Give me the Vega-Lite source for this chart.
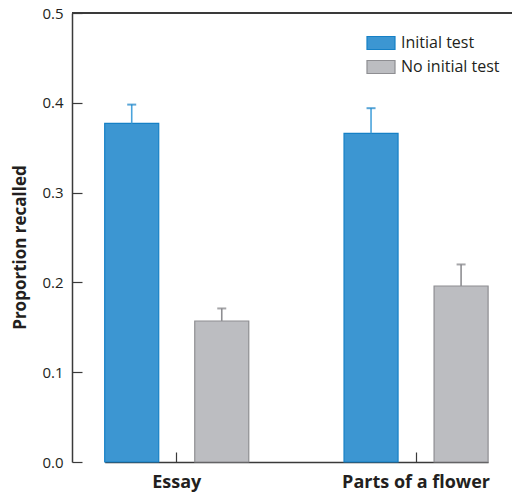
{
  "$schema": "https://vega.github.io/schema/vega-lite/v6.json",
  "width": 440,
  "height": 449,
  "autosize": {"type": "none"},
  "padding": {"left": 72, "top": 13, "right": 0, "bottom": 31},
  "background": "white",
  "config": {
    "view": {"stroke": null},
    "font": "Open Sans",
    "axis": {"domainColor": "#3a3a3a", "domainWidth": 1.5, "tickColor": "#3a3a3a", "tickWidth": 1.2, "grid": false, "labelColor": "#231f20", "titleColor": "#231f20"}
  },
  "data": {
    "values": [
      {"category": "Essay", "group": "Initial test", "value": 0.377, "upper": 0.398},
      {"category": "Essay", "group": "No initial test", "value": 0.157, "upper": 0.171},
      {"category": "Parts of a flower", "group": "Initial test", "value": 0.366, "upper": 0.394},
      {"category": "Parts of a flower", "group": "No initial test", "value": 0.196, "upper": 0.220}
    ]
  },
  "encoding": {
    "x": {
      "field": "category", "type": "nominal", "sort": null,
      "scale": {"paddingInner": 0.398, "paddingOuter": 0, "range": [32.7, 416.1]},
      "axis": {"title": null, "labelAngle": 0, "labelFont": "Open Sans", "labelFontWeight": "bold", "labelFontSize": 18, "tickSize": -10, "labelPadding": 21, "domainWidth": 1.5}
    },
    "xOffset": {"field": "group", "type": "nominal", "scale": {"paddingInner": 0.4, "paddingOuter": 0}}
  },
  "layer": [
    {
      "mark": {"type": "rule", "color": "#3a3a3a", "strokeWidth": 1.5},
      "encoding": {"x": null, "xOffset": null, "y": {"datum": 0.5, "type": "quantitative"}}
    },
    {
      "mark": {"type": "bar", "strokeWidth": 1.2},
      "encoding": {
        "y": {
          "field": "value", "type": "quantitative",
          "scale": {"domain": [0, 0.5], "nice": false},
          "axis": {"title": "Proportion recalled", "values": [0, 0.1, 0.2, 0.3, 0.4, 0.5], "format": ".1f", "labelFontSize": 15, "tickSize": -10, "labelPadding": 19, "titleFontSize": 17, "titleFontWeight": "bold", "titleX": -52, "titleY": 234, "titleAlign": "center", "titleBaseline": "middle", "domainWidth": 1.5}
        },
        "fill": {
          "field": "group", "type": "nominal",
          "scale": {"domain": ["Initial test", "No initial test"], "range": ["#3c96d2", "#bcbdc1"]},
          "legend": {
            "title": null, "orient": "none", "legendX": 294, "legendY": 15,
            "symbolType": "M-1,-0.464H1V0.464H-1Z", "symbolSize": 784,
            "symbolStrokeWidth": 1.2, "labelFontSize": 16, "labelColor": "#231f20",
            "rowPadding": -7, "labelOffset": 5
          }
        },
        "stroke": {
          "field": "group", "type": "nominal",
          "scale": {"domain": ["Initial test", "No initial test"], "range": ["#1580c6", "#8e8e92"]},
          "legend": null
        }
      }
    },
    {
      "mark": {"type": "rule", "strokeWidth": 1.6},
      "encoding": {
        "y": {"field": "value", "type": "quantitative"},
        "y2": {"field": "upper"},
        "color": {
          "field": "group", "type": "nominal",
          "scale": {"domain": ["Initial test", "No initial test"], "range": ["#4aa3dc", "#8e8e92"]},
          "legend": null
        }
      }
    },
    {
      "mark": {"type": "tick", "size": 9, "thickness": 2},
      "encoding": {
        "y": {"field": "upper", "type": "quantitative"},
        "color": {
          "field": "group", "type": "nominal",
          "scale": {"domain": ["Initial test", "No initial test"], "range": ["#1580c6", "#808084"]},
          "legend": null
        }
      }
    }
  ],
  "resolve": {"scale": {"color": "independent", "stroke": "independent", "fill": "independent"}}
}
